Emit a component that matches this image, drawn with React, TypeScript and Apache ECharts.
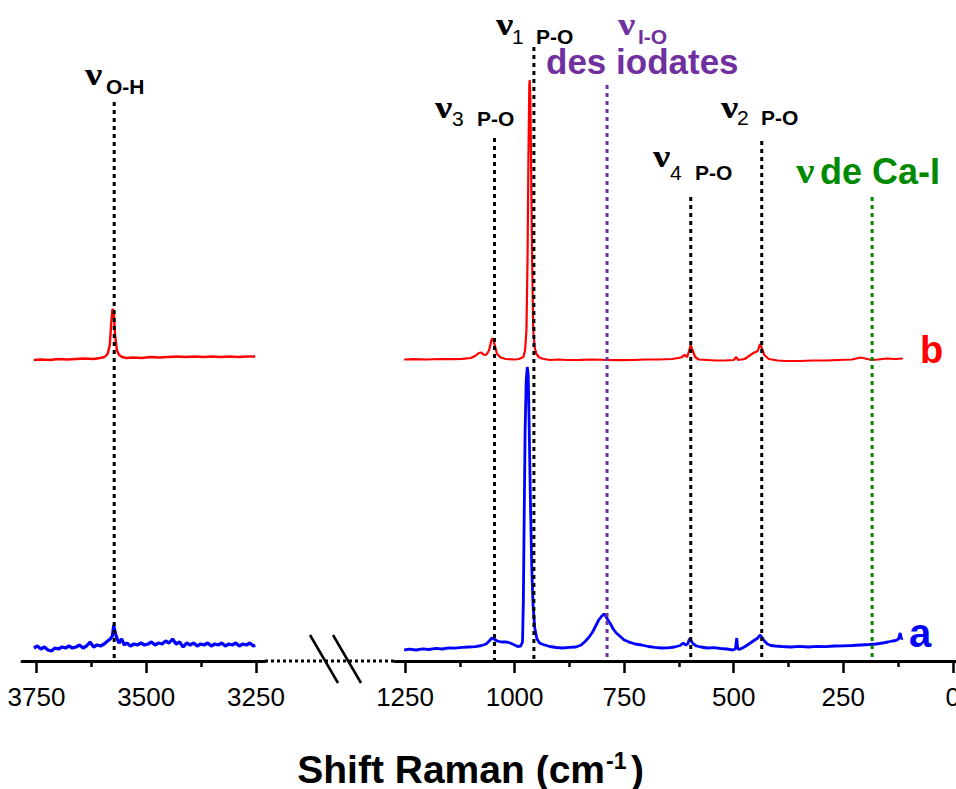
import React, { useEffect, useRef } from "react";
import * as echarts from "echarts";

// ---------- axis ticks ----------
const leftTicks = [3750, 3500, 3250];
const leftMinorTicks = [3625, 3375];
const rightTicks = [1250, 1000, 750, 500, 250, 0];
const rightMinorTicks = [1125, 875, 625, 375, 125];

// ---------- spectra (x: Raman shift cm-1, y: intensity, arbitrary units) ----------
const redLeft: [number, number][] = [
  [3756, 300], [3740, 300.5], [3720, 300], [3700, 301], [3680, 300.5], [3660, 301],
  [3640, 301.5], [3620, 301], [3605, 302], [3595, 303], [3588, 306], [3583, 315],
  [3580, 335], [3577, 351], [3574, 349], [3571, 325], [3567, 310], [3562, 305],
  [3555, 303], [3545, 302], [3530, 302.5], [3510, 302], [3490, 303], [3470, 302.5],
  [3450, 303], [3430, 303.5], [3410, 303], [3390, 303.5], [3370, 303], [3350, 303.5],
  [3330, 303], [3310, 303.5], [3290, 303], [3270, 303.5], [3252, 303.5],
];

const blueLeft: [number, number][] = [
  [3756, 12], [3748, 14], [3740, 11], [3732, 13], [3724, 10], [3716, 9], [3708, 12],
  [3700, 11], [3692, 13], [3684, 12], [3676, 14], [3668, 12], [3660, 13], [3652, 15],
  [3644, 12], [3636, 14], [3628, 18], [3620, 13], [3612, 15], [3604, 14], [3596, 16],
  [3588, 19], [3582, 21], [3577, 24], [3574, 35], [3571, 28], [3567, 22], [3562, 17],
  [3556, 21], [3550, 15], [3544, 17], [3536, 14], [3528, 16], [3520, 15], [3512, 17],
  [3504, 15], [3496, 16], [3488, 18], [3480, 15], [3472, 17], [3464, 16], [3456, 19],
  [3448, 17], [3440, 21], [3432, 16], [3424, 18], [3416, 13], [3408, 17], [3400, 15],
  [3392, 17], [3384, 14], [3376, 16], [3368, 15], [3360, 17], [3352, 14], [3344, 16],
  [3336, 15], [3328, 17], [3320, 14], [3312, 16], [3304, 15], [3296, 17], [3288, 14],
  [3280, 16], [3272, 15], [3264, 17], [3256, 14], [3252, 15],
];

const redRight: [number, number][] = [
  [1252, 300.5], [1230, 300.8], [1200, 300.5], [1170, 301], [1140, 300.8], [1120, 301.2],
  [1100, 302], [1090, 304], [1082, 307], [1076, 307.5], [1070, 305], [1064, 305.5],
  [1058, 310], [1053, 320], [1050, 322], [1046, 316], [1040, 306], [1032, 302.5],
  [1020, 301], [1000, 300.5], [990, 301], [980, 303], [976, 310], [973, 330],
  [970.5, 400], [968.5, 500], [966.5, 575], [965.5, 580], [964, 560], [962, 480],
  [960, 400], [957.5, 330], [954, 312], [950, 306], [945, 303], [938, 301.5],
  [920, 300], [900, 300.5], [880, 300], [850, 300.2], [820, 300.5], [790, 300],
  [760, 299.8], [730, 300], [700, 300.5], [670, 300.5], [640, 301], [620, 302.5],
  [612, 305], [606, 303], [602, 309], [598, 315], [594, 310], [588, 303], [580, 300.5],
  [560, 300], [540, 299.5], [520, 299.5], [500, 300], [494, 303], [490, 300],
  [475, 301], [465, 304], [455, 307], [445, 309], [440, 316], [436, 312], [430, 305],
  [420, 301], [400, 299.5], [380, 299], [350, 299], [320, 299.5], [290, 299.5],
  [260, 300], [230, 300.5], [210, 302.5], [200, 301.5], [185, 300], [170, 300.5],
  [150, 301.5], [130, 301], [114, 301.5],
];

const blueRight: [number, number][] = [
  [1252, 10], [1240, 10.8], [1225, 10], [1210, 11.2], [1195, 10.5], [1180, 11.6],
  [1165, 11], [1150, 12.2], [1135, 11.8], [1120, 12.6], [1105, 13], [1090, 13.4],
  [1075, 14.5], [1065, 16], [1058, 19], [1052, 22], [1047, 21], [1040, 19], [1030, 18],
  [1020, 18.2], [1010, 17], [1000, 15], [993, 13.5], [986, 14], [982, 18], [980, 60],
  [978, 150], [976, 230], [973.5, 280], [971, 293], [969, 285], [967, 240], [964, 160],
  [961, 95], [958, 55], [954, 32], [949, 21], [943, 17], [935, 15.5],
  [920, 13.5], [905, 12.5], [890, 12], [875, 12.6], [860, 13], [848, 15], [838, 19],
  [830, 23], [822, 28], [815, 34], [808, 40], [801, 44], [796, 46], [792, 44],
  [787, 40], [781, 36], [775, 31], [768, 27], [760, 24], [750, 20], [740, 18.2],
  [725, 16], [710, 15], [695, 13.5], [680, 12.6], [665, 12], [650, 12.2], [635, 13],
  [622, 14.5], [615, 17], [610, 15], [605, 16], [601, 21], [597, 19], [592, 16],
  [585, 14], [575, 13], [560, 12], [545, 12.3], [530, 11.5], [515, 11], [503, 10],
  [496, 11], [493, 22], [491, 12], [488, 10.5], [480, 12], [472, 14], [462, 17],
  [452, 20], [445, 22], [440, 25], [436, 23], [430, 19], [423, 16], [415, 14.5],
  [405, 14], [390, 13.5], [370, 13], [350, 13.6], [330, 13], [310, 13.6], [290, 13.4],
  [270, 14], [250, 14.2], [230, 14.5], [210, 15], [190, 15.5], [175, 16], [160, 17],
  [148, 18], [138, 19], [130, 19.5], [124, 21], [120, 27], [117, 21], [115, 22],
];

// ---------- assignment lines: [position cm-1, top intensity] ----------
const ohLine: [number, number] = [3573, 558];
const pBlackLines: [number, number][] = [
  [1046, 522], // v3 P-O
  [956, 613],  // v1 P-O
  [598, 463],  // v4 P-O
  [436, 519],  // v2 P-O
];
const ioLine: [number, number] = [789, 575];
const caiLine: [number, number] = [184, 463];

const FONT = '"Liberation Sans", Arial, sans-serif';
const SERIF = '"Liberation Serif", "Times New Roman", serif';

function vertLine(pos: [number, number], color: string, axis: number): any {
  return {
    type: "line",
    xAxisIndex: axis,
    yAxisIndex: axis,
    data: [
      [pos[0], pos[1]],
      [pos[0], 0],
    ],
    symbol: "none",
    silent: true,
    clip: false,
    z: 5,
    lineStyle: { color, width: 3, type: [4, 4] },
  };
}

function txt(x: number, y: number, text: string, size: number, color: string, opts: any = {}): any {
  return {
    type: "text",
    x,
    y,
    scaleX: opts.scaleX ?? 1,
    z: 10,
    style: {
      text,
      fill: color,
      fontSize: size,
      fontFamily: opts.family ?? FONT,
      fontWeight: opts.weight ?? "bold",
      align: opts.align ?? "left",
      verticalAlign: "middle",
    },
  };
}

function nu(x: number, yBase: number, color = "#000", size = 31, scale = 1.25): any {
  return txt(x, yBase - size * 0.34, "ν", size, color, {
    family: SERIF,
    weight: "bold",
    scaleX: scale,
  });
}

export default function App() {
  const ref = useRef<HTMLDivElement>(null);

  useEffect(() => {
    if (!ref.current) return;
    const chart = echarts.init(ref.current, undefined, { renderer: "svg" });

    const majorAxis = (grid: number, min: number, max: number, ticks: number[]) => ({
      type: "value",
      gridIndex: grid,
      position: "bottom",
      inverse: true,
      min,
      max,
      axisLine: { show: true, onZero: false, lineStyle: { color: "#000", width: 3 } },
      axisTick: {
        show: true,
        customValues: ticks,
        length: 12,
        lineStyle: { color: "#000", width: 2.5 },
      },
      axisLabel: {
        show: true,
        customValues: ticks,
        fontSize: 26,
        color: "#000",
        fontFamily: FONT,
        margin: 23,
        formatter: (v: number) => String(v),
      },
      splitLine: { show: false },
    });
    const minorAxis = (grid: number, min: number, max: number, ticks: number[]) => ({
      type: "value",
      gridIndex: grid,
      position: "bottom",
      inverse: true,
      min,
      max,
      axisLine: { show: false, onZero: false },
      axisTick: {
        show: true,
        customValues: ticks,
        length: 6,
        lineStyle: { color: "#000", width: 2.5 },
      },
      axisLabel: { show: false },
      splitLine: { show: false },
    });

    const option: any = {
      animation: false,
      backgroundColor: "#fff",
      grid: [
        { left: 22, width: 243, top: 0, height: 661, containLabel: false, outerBoundsMode: "none" },
        { left: 395, width: 561, top: 0, height: 661, containLabel: false, outerBoundsMode: "none" },
      ],
      xAxis: [
        majorAxis(0, 3229.5, 3783, leftTicks),
        majorAxis(1, -7.4, 1273, rightTicks),
        minorAxis(0, 3229.5, 3783, leftMinorTicks),
        minorAxis(1, -7.4, 1273, rightMinorTicks),
      ],
      yAxis: [
        { type: "value", gridIndex: 0, min: -1, max: 660, show: false },
        { type: "value", gridIndex: 1, min: -1, max: 660, show: false },
      ],
      series: [
        {
          type: "line", xAxisIndex: 0, yAxisIndex: 0, data: redLeft, symbol: "none",
          lineStyle: { color: "#ff0000", width: 2.4 }, z: 3,
        },
        {
          type: "line", xAxisIndex: 0, yAxisIndex: 0, data: blueLeft, symbol: "none",
          lineStyle: { color: "#0000ff", width: 3.2 }, z: 3,
        },
        {
          type: "line", xAxisIndex: 1, yAxisIndex: 1, data: redRight, symbol: "none",
          lineStyle: { color: "#ff0000", width: 2.2 }, z: 3,
        },
        {
          type: "line", xAxisIndex: 1, yAxisIndex: 1, data: blueRight, symbol: "none",
          lineStyle: { color: "#0000ff", width: 2.8 }, z: 3,
        },
        vertLine(ohLine, "#000", 0),
        ...pBlackLines.map((p) => vertLine(p, "#000", 1)),
        vertLine(ioLine, "#7030a0", 1),
        vertLine(caiLine, "#008a00", 1),
      ],
      graphic: [
        // axis break
        {
          type: "line",
          shape: { x1: 265, y1: 661, x2: 395, y2: 661 },
          style: { stroke: "#000", lineWidth: 3, lineDash: [3, 3] },
        },
        {
          type: "line",
          shape: { x1: 310, y1: 635, x2: 338, y2: 683 },
          style: { stroke: "#000", lineWidth: 2.5 },
        },
        {
          type: "line",
          shape: { x1: 333, y1: 635, x2: 361, y2: 683 },
          style: { stroke: "#000", lineWidth: 2.5 },
        },
        // v O-H
        nu(85, 85),
        txt(106, 86, "O-H", 21, "#000"),
        // v1 P-O
        nu(496, 35),
        txt(512, 36, "1", 21, "#000", { weight: "normal" }),
        txt(536, 36, "P-O", 21, "#000"),
        // v3 P-O
        nu(435, 118),
        txt(452, 118, "3", 21, "#000", { weight: "normal" }),
        txt(477, 118, "P-O", 21, "#000"),
        // v2 P-O
        nu(721, 118),
        txt(737, 117, "2", 21, "#000", { weight: "normal" }),
        txt(761, 117, "P-O", 21, "#000"),
        // v4 P-O
        nu(653, 167),
        txt(670, 172, "4", 21, "#000", { weight: "normal" }),
        txt(695, 172, "P-O", 21, "#000"),
        // v I-O des iodates
        nu(618, 35.5, "#7030a0"),
        txt(638, 36, "I-O", 21, "#7030a0"),
        txt(546, 61, "des iodates", 35, "#7030a0"),
        // v de Ca-I
        nu(796, 183, "#008a00", 36, 1.15),
        txt(820, 171, "de Ca-I", 36, "#008a00"),
        // series labels
        txt(920, 350, "b", 38, "#ff0000"),
        txt(909, 633, "a", 40, "#0000ff"),
        // axis title
        txt(605, 769.5, "Shift Raman (cm", 39, "#000", { align: "right" }),
        txt(606, 761, "-1", 23, "#000"),
        txt(631, 769.5, ")", 39, "#000"),
      ],
    };

    chart.setOption(option);
    return () => chart.dispose();
  }, []);

  return (
    <div
      ref={ref}
      style={{ position: "absolute", left: 0, top: 0, width: 956, height: 789 }}
    />
  );
}
